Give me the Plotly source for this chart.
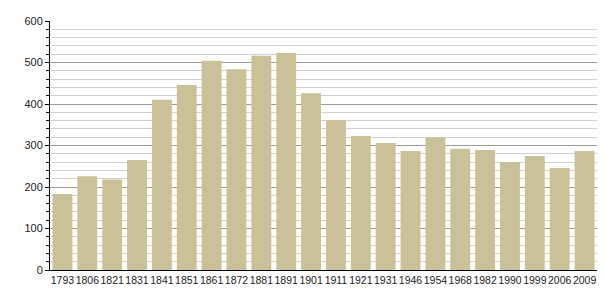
import plotly.graph_objects as go

years = ["1793", "1806", "1821", "1831", "1841", "1851", "1861", "1872", "1881", "1891", "1901",
         "1911", "1921", "1931", "1946", "1954", "1968", "1982", "1990", "1999", "2006", "2009"]
population = [183, 226, 218, 265, 410, 446, 504, 484, 516, 523, 426,
              361, 323, 306, 287, 319, 292, 289, 260, 275, 246, 287]
y_ticks = [0, 100, 200, 300, 400, 500, 600]

fig = go.Figure(go.Bar(
    x=years, y=population,
    marker=dict(color="#cbc199", line=dict(width=0)),
    width=0.8,
))

fig.update_layout(
    width=605, height=300,
    margin=dict(l=50, r=8, t=21, b=30),
    plot_bgcolor="white", paper_bgcolor="white",
    font=dict(family="Liberation Sans, Arial, sans-serif", size=11, color="#222"),
    showlegend=False,
    bargap=0.2,
)
fig.update_xaxes(
    type="category",
    showline=True, linecolor="black", linewidth=1,
    showgrid=False, ticks="", tickangle=0, tickfont=dict(size=10.5),
    automargin=False,
)
fig.update_yaxes(
    range=[0, 600], tickvals=y_ticks,
    showline=True, linecolor="black", linewidth=1,
    showgrid=True, gridcolor="#9a9a9a", gridwidth=1,
    ticks="outside", ticklen=4, tickcolor="black",
    minor=dict(dtick=20, showgrid=True, gridcolor="#d0d0d0", ticks="outside", ticklen=3, tickcolor="black"),
    zeroline=False, tickfont=dict(size=11),
)

fig.write_html("out.html")
